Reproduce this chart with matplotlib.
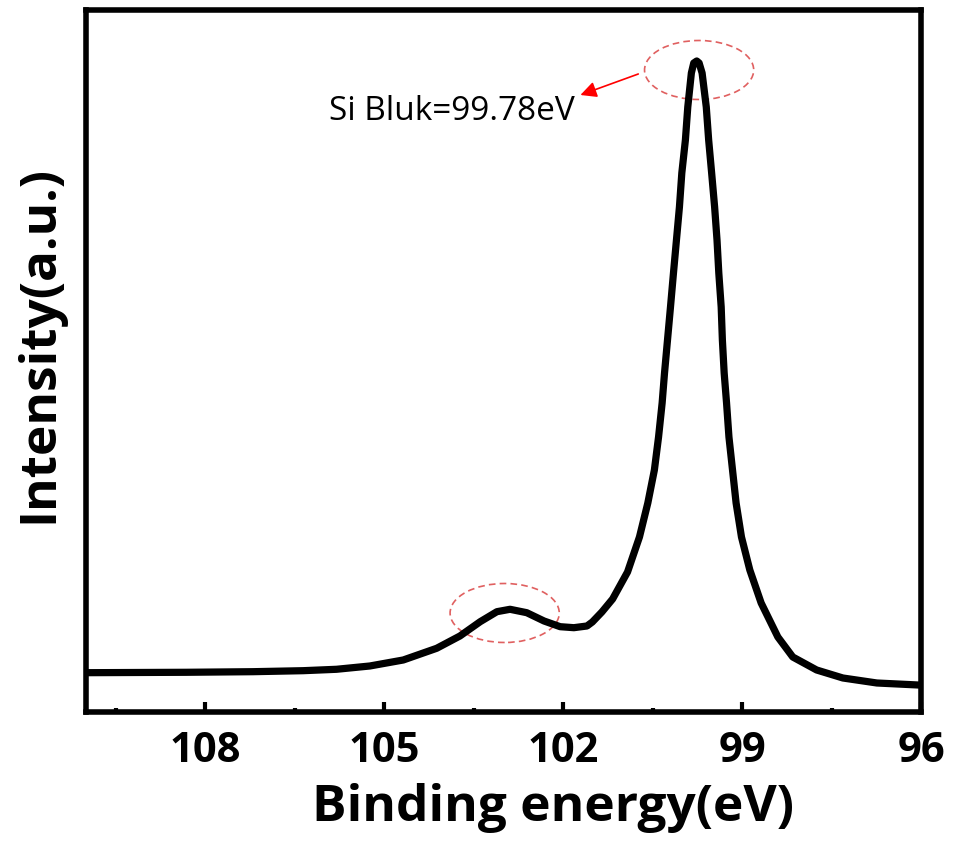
import matplotlib
matplotlib.use("Agg")
import matplotlib.pyplot as plt
from matplotlib.patches import Ellipse
from matplotlib.ticker import MultipleLocator

# Binding energy (eV) and intensity (a.u.)
energy = [110.00, 108.32, 107.20, 106.36, 105.80, 105.24, 104.68, 104.12, 103.73,
          103.39, 103.11, 102.89, 102.61, 102.32, 102.05, 101.82, 101.60, 101.51,
          101.35, 101.17, 100.92, 100.72, 100.58, 100.47, 100.40, 100.34, 100.30,
          100.25, 100.20, 100.15, 100.10, 100.05, 100.01, 99.95, 99.91, 99.85,
          99.81, 99.76, 99.72, 99.67, 99.60, 99.56, 99.51, 99.46, 99.42, 99.39,
          99.35, 99.33, 99.30, 99.26, 99.22, 99.16, 99.10, 99.01, 98.87, 98.68,
          98.40, 98.15, 97.75, 97.31, 96.74, 96.05, 96.00]
intensity = [39.3, 39.7, 40.3, 41.3, 42.7, 46, 52, 63.7, 76,
             90.3, 100.3, 102.7, 99.3, 91, 85.3, 84.3, 86, 90,
             100, 113, 140, 175, 209, 242, 275, 309, 339,
             372, 405, 439, 472, 505, 539, 572, 605, 639,
             649, 651, 649, 639, 605, 572, 539, 505, 472, 439,
             405, 372, 339, 309, 275, 242, 209, 175, 142, 109,
             75, 55, 42, 34, 29, 27, 27]

xticks = [108, 105, 102, 99, 96]
xlim = (110, 96)
ylim = (0, 702)

# highlighted features (energy, intensity) and annotation
main_peak = (99.72, 642)
sat_peak = (102.98, 99)
label_text = "Si Bluk=99.78eV"
label_pos = (105.93, 592)
arrow_tail = (100.74, 638)
arrow_head = (101.71, 617)

plt.rcParams['font.family'] = ['Open Sans', 'DejaVu Sans']

fig = plt.figure(figsize=(9.55, 8.47), dpi=100)
ax = fig.add_axes([0.090, 0.1594, 0.8744, 0.8288])

ax.plot(energy, intensity, color='black', lw=5.2, solid_joinstyle='round',
        solid_capstyle='round')

ax.set_xlim(*xlim)
ax.set_ylim(*ylim)
ax.set_xticks(xticks)
ax.set_xticklabels([str(t) for t in xticks])
ax.xaxis.set_minor_locator(MultipleLocator(1.5))
ax.tick_params(axis='x', which='major', direction='in', length=7, width=3,
               labelsize=30, pad=14)
ax.tick_params(axis='x', which='minor', direction='in', length=3, width=3)
ax.tick_params(axis='y', left=False, labelleft=False)
for lab in ax.get_xticklabels():
    lab.set_fontweight('bold')
for sp in ax.spines.values():
    sp.set_linewidth(4)

ax.set_xlabel('Binding energy(eV)', fontsize=37, fontweight='bold')
ax.xaxis.set_label_coords(0.559, -0.101)
ax.set_ylabel('Intensity(a.u.)', fontsize=37, fontweight='bold')
ax.yaxis.set_label_coords(-0.026, 0.5235)

ecol = '#e06060'
for (cx, cy) in (main_peak, sat_peak):
    ax.add_patch(Ellipse((cx, cy), width=1.83, height=59, fill=False,
                         edgecolor=ecol, lw=1.2, linestyle=(0, (4, 2.5))))

ax.text(*label_pos, label_text, fontsize=24, ha='left', va='baseline')
ax.annotate('', xy=arrow_head, xytext=arrow_tail,
            arrowprops=dict(arrowstyle='-|>', color='red', lw=1.2,
                            mutation_scale=24, shrinkA=0, shrinkB=0))

fig.savefig('out.png', dpi=100)
